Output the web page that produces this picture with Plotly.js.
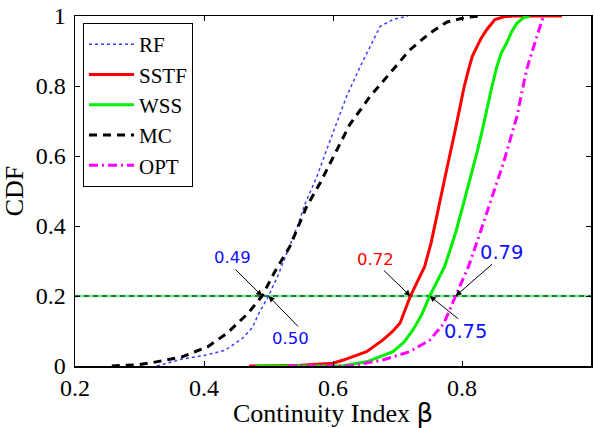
<!DOCTYPE html>
<html>
<head>
<meta charset="utf-8">
<script src="https://cdn.plot.ly/plotly-3.0.1.min.js"></script>
<style>
  html, body { margin: 0; padding: 0; background: #fff; }
  #chart { width: 595px; height: 428px; }
</style>
</head>
<body>
<div id="chart"></div>
<script>
// CDF of the continuity index for each scheme
const rfX   = [0.327, 0.366, 0.40, 0.433, 0.46, 0.475, 0.485, 0.50, 0.515, 0.53, 0.545, 0.557, 0.575, 0.59, 0.606, 0.621, 0.642, 0.66, 0.673, 0.693, 0.716];
const rfY   = [0, 0.02, 0.03, 0.045, 0.08, 0.11, 0.15, 0.2, 0.26, 0.33, 0.40, 0.465, 0.541, 0.617, 0.694, 0.77, 0.855, 0.92, 0.97, 0.99, 1.0];

const sstfX = [0.47, 0.55, 0.60, 0.616, 0.652, 0.677, 0.692, 0.704, 0.72, 0.732, 0.742, 0.752, 0.758, 0.764, 0.772, 0.781, 0.789, 0.797, 0.803, 0.81, 0.816, 0.823, 0.83, 0.838, 0.851, 0.865, 0.879, 0.955];
const sstfY = [0, 0.002, 0.008, 0.017, 0.041, 0.074, 0.098, 0.123, 0.2, 0.245, 0.284, 0.351, 0.40, 0.455, 0.525, 0.598, 0.67, 0.741, 0.795, 0.846, 0.885, 0.912, 0.937, 0.96, 0.99, 0.998, 1.0, 1.0];

const wssX  = [0.48, 0.616, 0.652, 0.693, 0.71, 0.724, 0.738, 0.75, 0.773, 0.79, 0.801, 0.812, 0.823, 0.831, 0.838, 0.846, 0.854, 0.861, 0.869, 0.877, 0.885, 0.895, 0.905];
const wssY  = [0, 0.001, 0.012, 0.041, 0.068, 0.103, 0.148, 0.2, 0.284, 0.38, 0.455, 0.53, 0.608, 0.67, 0.731, 0.795, 0.855, 0.895, 0.922, 0.955, 0.979, 0.995, 1.0];

const mcX   = [0.257, 0.30, 0.321, 0.345, 0.366, 0.385, 0.406, 0.436, 0.468, 0.49, 0.51, 0.533, 0.559, 0.58, 0.60, 0.626, 0.657, 0.688, 0.719, 0.75, 0.777, 0.808, 0.833];
const mcY   = [0, 0.004, 0.01, 0.018, 0.026, 0.04, 0.055, 0.094, 0.15, 0.2, 0.27, 0.341, 0.455, 0.523, 0.597, 0.69, 0.769, 0.837, 0.903, 0.951, 0.983, 0.997, 1.0];

const optX  = [0.53, 0.626, 0.677, 0.719, 0.75, 0.772, 0.79, 0.81, 0.828, 0.845, 0.864, 0.885, 0.90, 0.916, 0.926, 0.93];
const optY  = [0, 0.0, 0.017, 0.041, 0.074, 0.122, 0.2, 0.284, 0.38, 0.474, 0.579, 0.712, 0.846, 0.941, 0.998, 1.0];

// reference level and the values marked on it
const refLevel   = 0.2;
const refLineX   = [0.2, 1.0];
const markValues = [0.49, 0.50, 0.72, 0.75, 0.79];
const markLabels = ['0.49', '0.50', '0.72', '0.75', '0.79'];

const xTickVals = [0.2, 0.4, 0.6, 0.8, 1.0];
const xTickText = ['0.2', '0.4', '0.6', '0.8', '1'];
const yTickVals = [0, 0.2, 0.4, 0.6, 0.8, 1.0];
const yTickText = ['0', '0.2', '0.4', '0.6', '0.8', '1'];

const serif = 'Liberation Serif';
const sans  = 'DejaVu Sans';

const traces = [
  { x: refLineX, y: [refLevel, refLevel], mode: 'lines', showlegend: false, hoverinfo: 'skip',
    line: { color: '#6cf08c', width: 2.5 } },
  { x: refLineX, y: [refLevel, refLevel], mode: 'lines', showlegend: false, hoverinfo: 'skip',
    line: { color: '#1f4f2a', width: 1.5, dash: '5px,4px' } },
  { x: rfX, y: rfY, name: 'RF', mode: 'lines',
    line: { color: '#3b3bff', width: 1.5, dash: 'dot' } },
  { x: sstfX, y: sstfY, name: 'SSTF', mode: 'lines',
    line: { color: '#ff0000', width: 3 } },
  { x: wssX, y: wssY, name: 'WSS', mode: 'lines',
    line: { color: '#00ee00', width: 3 } },
  { x: mcX, y: mcY, name: 'MC', mode: 'lines',
    line: { color: '#000000', width: 3, dash: '8px,6px' } },
  { x: optX, y: optY, name: 'OPT', mode: 'lines',
    line: { color: '#ff00ff', width: 3, dash: '9px,4px,2px,4px' } }
];

// arrow tail offsets (px) and label offsets (px) for each marked value
const arrowOff = [[-28, -28], [31, 32], [-28, -27], [30, 24], [38, -33]];
const textOff  = [[-30, 39], [22, -42], [-35, 37], [36, -35], [46, 44]];
const textCol  = ['#1010ff', '#1010ff', '#ff0000', '#1010ff', '#1010ff'];
const textSize = [16.5, 16.5, 16.5, 19.5, 19.5];

const annotations = [];
markValues.forEach((v, i) => {
  annotations.push({
    x: v, y: refLevel, xref: 'x', yref: 'y',
    text: ' ', font: { size: 1 },
    showarrow: true, arrowhead: 2, arrowsize: 1.2, arrowwidth: 1, arrowcolor: '#000',
    ax: arrowOff[i][0], ay: arrowOff[i][1], standoff: 0, startstandoff: 0
  });
  annotations.push({
    x: v, y: refLevel, xref: 'x', yref: 'y',
    text: markLabels[i], showarrow: false,
    xshift: textOff[i][0], yshift: textOff[i][1],
    font: { family: sans, size: textSize[i], color: textCol[i] }
  });
});

const axisCommon = {
  showline: true, linecolor: '#000', linewidth: 1.5, mirror: 'ticks',
  ticks: 'inside', ticklen: 5, tickwidth: 1, tickcolor: '#000',
  showgrid: false, zeroline: false,
  tickfont: { family: serif, size: 24, color: '#000' }
};

const layout = {
  width: 595, height: 428,
  margin: { l: 75, r: 4, t: 16, b: 62 },
  paper_bgcolor: '#fff', plot_bgcolor: '#fff',
  font: { family: serif, size: 22, color: '#000' },
  showlegend: true,
  legend: {
    x: 0.0155, y: 0.98, xanchor: 'left', yanchor: 'top',
    bgcolor: '#fff', bordercolor: '#000', borderwidth: 1,
    font: { family: serif, size: 21, color: '#000' },
    tracegroupgap: 0, itemwidth: 45
  },
  xaxis: Object.assign({}, axisCommon, {
    range: [0.2, 1.0], tickmode: 'array', tickvals: xTickVals, ticktext: xTickText,
    title: { text: 'Continuity Index <span style="font-family:DejaVu Sans">β</span>',
             font: { family: serif, size: 26, color: '#000' }, standoff: 3 }
  }),
  yaxis: Object.assign({}, axisCommon, {
    range: [0, 1.0], tickmode: 'array', tickvals: yTickVals, ticktext: yTickText,
    ticklabelstandoff: 3,
    title: { text: 'CDF', font: { family: serif, size: 26, color: '#000' }, standoff: 4 }
  }),
  annotations: annotations
};

Plotly.newPlot('chart', traces, layout, { displayModeBar: false, staticPlot: true });
</script>
</body>
</html>
